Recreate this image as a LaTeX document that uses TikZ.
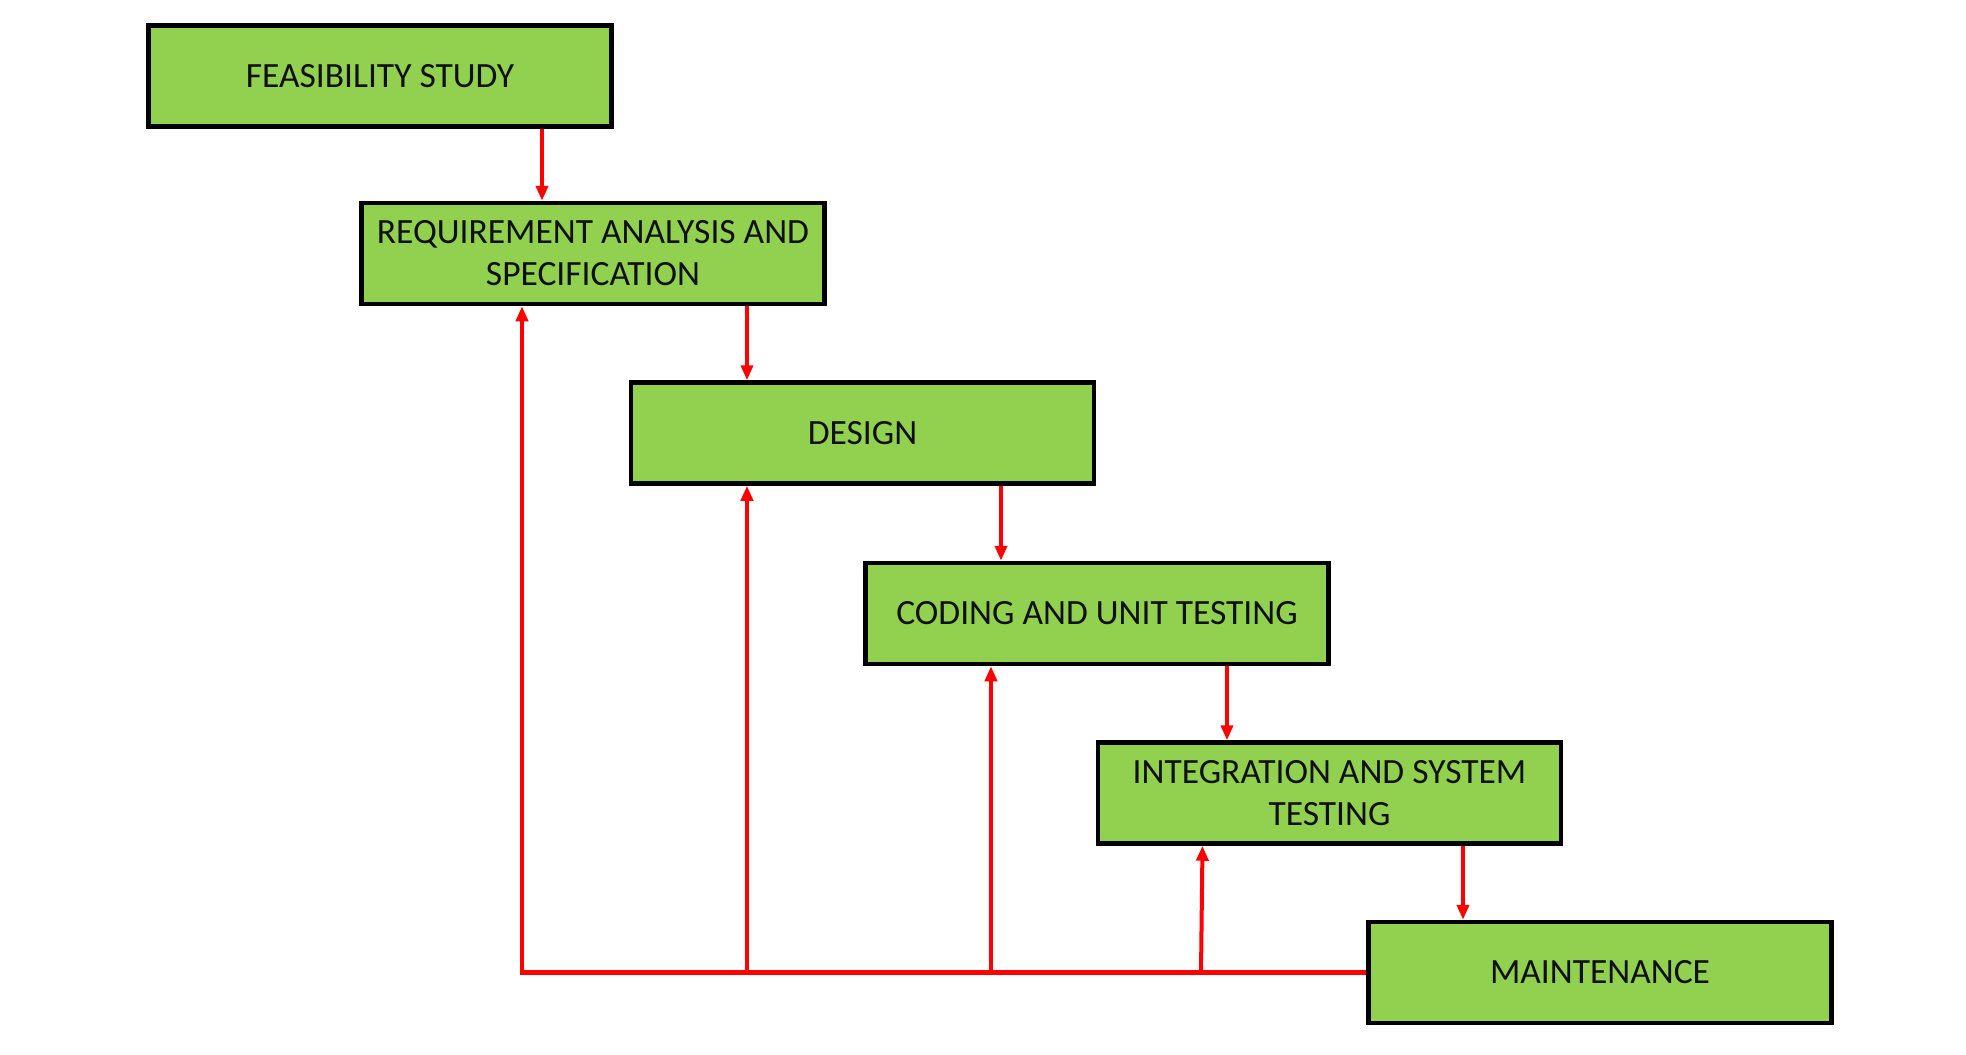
\documentclass[tikz,border=0pt]{standalone}
\usepackage{fontspec}
\setmainfont{Carlito}
\usetikzlibrary{arrows.meta}
\definecolor{boxgreen}{HTML}{92D050}
\definecolor{txt}{HTML}{101010}
\begin{document}
\begin{tikzpicture}[x=1pt,y=-1pt,
  phase/.style={draw=black, line width=4.5pt, fill=boxgreen, minimum width=463pt, minimum height=101pt,
    align=center, text=txt, font=\fontsize{35.5}{42}\selectfont, inner sep=0pt},
  arr/.style={draw=red, line width=4pt, -{Triangle[width=12pt,length=15pt]}},
  fbline/.style={draw=red, line width=4.8pt}]
\fill[white] (0,0) rectangle (1966,1055);
\useasboundingbox (0,0) rectangle (1966,1055);
\node[phase] (fs) at (380,76) {FEASIBILITY STUDY};
\node[phase] (req) at (593,253.5) {REQUIREMENT ANALYSIS AND\\SPECIFICATION};
\node[phase] (des) at (862.5,433) {DESIGN};
\node[phase] (cod) at (1097,613.5) {CODING AND UNIT TESTING};
\node[phase] (int) at (1329.5,793) {INTEGRATION AND SYSTEM\\TESTING};
\node[phase] (mnt) at (1600,972.5) {MAINTENANCE};
% forward flow
\draw[arr] ([xshift=162pt]fs.south) -- ([xshift=162pt]fs.south |- req.north);
\draw[arr] ([xshift=154pt]req.south) -- ([xshift=154pt]req.south |- des.north);
\draw[arr] ([xshift=138.5pt]des.south) -- ([xshift=138.5pt]des.south |- cod.north);
\draw[arr] ([xshift=130pt]cod.south) -- ([xshift=130pt]cod.south |- int.north);
\draw[arr] ([xshift=133.5pt]int.south) -- ([xshift=133.5pt]int.south |- mnt.north);
% feedback
\coordinate (j1) at ([xshift=-71pt]req.south |- mnt.west);
\coordinate (j2) at ([xshift=-115.5pt]des.south |- mnt.west);
\coordinate (j3) at ([xshift=-106pt]cod.south |- mnt.west);
\coordinate (j4) at ([xshift=-128.5pt]int.south |- mnt.west);
\draw[fbline] (mnt.west) -- ([xshift=-2pt]j1);
\draw[arr] (j1) -- ([xshift=-71pt]req.south);
\draw[arr] (j2) -- ([xshift=-115.5pt]des.south);
\draw[arr] (j3) -- ([xshift=-106pt]cod.south);
\draw[arr] (j4) -- ([xshift=-127pt]int.south);
\end{tikzpicture}
\end{document}
